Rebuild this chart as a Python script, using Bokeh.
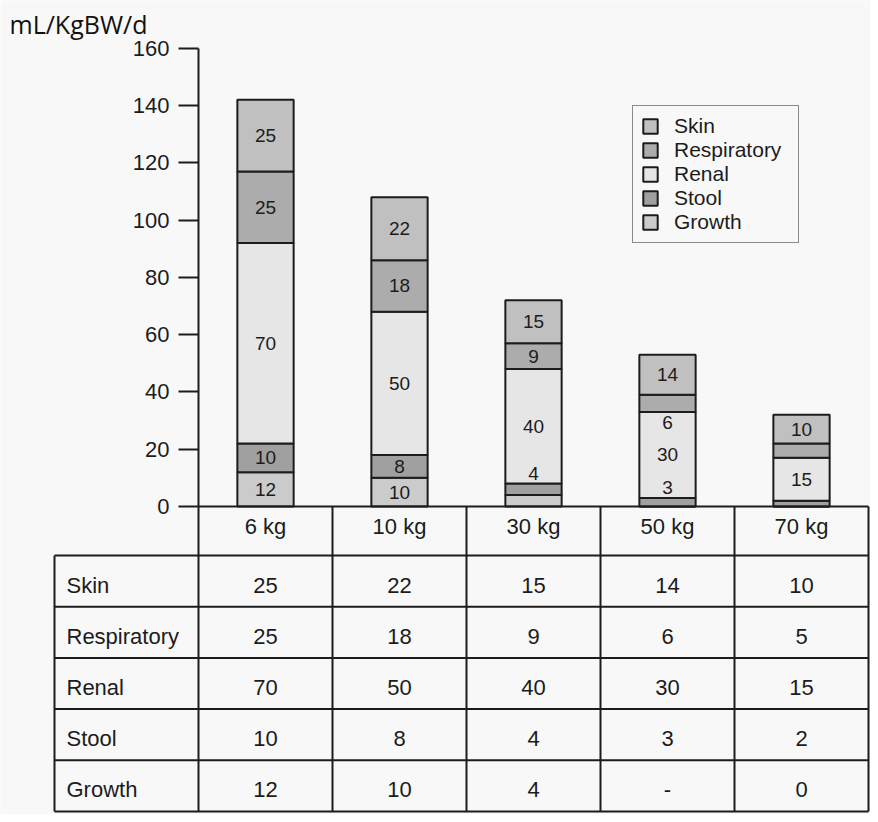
from bokeh.plotting import figure
from bokeh.models import (ColumnDataSource, LinearAxis, FixedTicker, Range1d,
                          Legend, LegendItem, Label)
from bokeh.core.properties import value
from bokeh.embed import file_html
from bokeh.resources import INLINE

# ---------------- data ----------------
CATEGORIES = ["6 kg", "10 kg", "30 kg", "50 kg", "70 kg"]
SKIN = [25, 22, 15, 14, 10]
RESPIRATORY = [25, 18, 9, 6, 5]
RENAL = [70, 50, 40, 30, 15]
STOOL = [10, 8, 4, 3, 2]
GROWTH = [12, 10, 4, None, 0]
STACK_ORDER = ["Growth", "Stool", "Renal", "Respiratory", "Skin"]   # bottom -> top
TABLE_ROWS = ["Skin", "Respiratory", "Renal", "Stool", "Growth"]
Y_TICKS = [0, 20, 40, 60, 80, 100, 120, 140, 160]
Y_UNIT = "mL/KgBW/d"
# small segments whose value is written inside the renal block instead
CALLOUTS = [("30 kg", "Stool", "bottom"), ("50 kg", "Stool", "bottom"),
            ("50 kg", "Respiratory", "top")]

SERIES = {"Skin": SKIN, "Respiratory": RESPIRATORY, "Renal": RENAL,
          "Stool": STOOL, "Growth": GROWTH}

# ---------------- style / layout ----------------
COLORS = {"Skin": "#c0c0c0", "Respiratory": "#acacac", "Renal": "#e6e6e6",
          "Stool": "#a0a0a0", "Growth": "#cbcbcb"}
BG = "#f8f8f8"
INK = "#1c1c1c"
FONT = "Liberation Sans"
W, H = 870, 814
PX_X = 134.0          # pixels per category
PX_Y = 2.864          # pixels per mL unit
X0 = 265              # frame px of first bar centre
Y0 = 506              # frame px (from top) of value 0
HEADER_H = 49
ROW_H = 51.2
LABEL_LEFT = 54       # frame px of table's left edge
BAR_W = 0.42

p = figure(width=W, height=H, output_backend="svg", toolbar_location=None,
           x_axis_type=None, y_axis_type=None, min_border=0,
           x_range=Range1d(-X0 / PX_X, (W - X0) / PX_X),
           y_range=Range1d(-(H - Y0) / PX_Y, Y0 / PX_Y))
p.title.visible = False
p.outline_line_color = None
p.background_fill_color = BG
p.border_fill_color = BG
p.xgrid.visible = False
p.ygrid.visible = False

# ---------------- y axis ----------------
yaxis = LinearAxis(ticker=FixedTicker(ticks=Y_TICKS), bounds=(0, 160))
yaxis.fixed_location = -0.5
yaxis.axis_line_width = 2
yaxis.axis_line_color = INK
yaxis.major_tick_line_width = 2
yaxis.major_tick_line_color = INK
yaxis.major_tick_out = 20
yaxis.major_tick_in = 0
yaxis.minor_tick_out = 0
yaxis.minor_tick_in = 0
yaxis.major_label_standoff = 9
yaxis.major_label_text_font = FONT
yaxis.major_label_text_font_size = "22px"
yaxis.major_label_text_color = INK
p.add_layout(yaxis, "left")

# ---------------- stacked bars ----------------
n = len(CATEGORIES)
data = {"x": list(range(n))}
for s in STACK_ORDER:
    data[s] = [v if v is not None else 0 for v in SERIES[s]]
src = ColumnDataSource(data)
renderers = p.vbar_stack(STACK_ORDER, x="x", width=BAR_W, source=src,
                         fill_color=[COLORS[s] for s in STACK_ORDER],
                         line_color=INK, line_width=2)
rmap = dict(zip(STACK_ORDER, renderers))

# segment bounds
bounds = {}
for i in range(n):
    acc = 0
    for s in STACK_ORDER:
        v = data[s][i]
        bounds[(i, s)] = (acc, acc + v)
        acc += v

lx, ly, lt = [], [], []
for i in range(n):
    for s in STACK_ORDER:
        v = SERIES[s][i]
        if v is not None and v >= 8:
            b0, b1 = bounds[(i, s)]
            lx.append(i); ly.append((b0 + b1) / 2); lt.append(str(v))
p.text(x=lx, y=ly, text=lt, text_align="center", text_baseline="middle",
       text_font=value(FONT), text_font_size="19px", text_color=INK)

for cat, s, anchor in CALLOUTS:
    i = CATEGORIES.index(cat)
    r0, r1 = bounds[(i, "Renal")]
    if anchor == "bottom":
        yy, off = r0, -10
    else:
        yy, off = r1, 11
    p.text(x=[i], y=[yy], text=[str(SERIES[s][i])], y_offset=off,
           text_align="center", text_baseline="middle",
           text_font=value(FONT), text_font_size="19px", text_color=INK)

# ---------------- table ----------------
xl, xr = -0.5, n - 0.5
xlab = (LABEL_LEFT - X0) / PX_X
y_head = -HEADER_H / PX_Y
y_bot = -(HEADER_H + len(TABLE_ROWS) * ROW_H) / PX_Y
x0s, y0s, x1s, y1s = [xl], [0], [xr], [0]
for k in range(len(TABLE_ROWS) + 1):
    yy = -(HEADER_H + k * ROW_H) / PX_Y
    x0s.append(xlab); y0s.append(yy); x1s.append(xr); y1s.append(yy)
for j in range(n + 1):
    xx = -0.5 + j
    x0s.append(xx); y0s.append(0); x1s.append(xx); y1s.append(y_bot)
x0s.append(xlab); y0s.append(y_head); x1s.append(xlab); y1s.append(y_bot)
p.segment(x0=x0s, y0=y0s, x1=x1s, y1=y1s, line_color=INK, line_width=2)

# header row
p.text(x=list(range(n)), y=[y_head / 2] * n, text=CATEGORIES, y_offset=-5,
       text_align="center", text_baseline="middle",
       text_font=value(FONT), text_font_size="22px", text_color=INK)

# body rows
for k, row in enumerate(TABLE_ROWS):
    yc = -(HEADER_H + (k + 0.5) * ROW_H) / PX_Y
    p.text(x=[xlab], y=[yc], text=[row], x_offset=12, y_offset=4,
           text_align="left", text_baseline="middle",
           text_font=value(FONT), text_font_size="22px", text_color=INK)
    vals = ["-" if v is None else str(v) for v in SERIES[row]]
    p.text(x=list(range(n)), y=[yc] * n, text=vals, y_offset=4,
           text_align="center", text_baseline="middle",
           text_font=value(FONT), text_font_size="22px", text_color=INK)

# ---------------- legend ----------------
legend = Legend(items=[LegendItem(label=s, renderers=[rmap[s]]) for s in TABLE_ROWS],
                location=(632, H - 243), margin=0, padding=8, spacing=0,
                glyph_width=18, glyph_height=18, label_standoff=15,
                label_width=116, label_height=20,
                label_text_font=FONT, label_text_font_size="21px",
                label_text_color=INK, border_line_color=INK,
                border_line_width=1.5, background_fill_color=BG,
                background_fill_alpha=1.0)
p.add_layout(legend)

# ---------------- unit label ----------------
p.add_layout(Label(x=9, y=H - 23, x_units="screen", y_units="screen",
                   text=Y_UNIT, text_font="Open Sans", text_font_size="25px",
                   text_color="#111111", text_baseline="alphabetic"))

open("out.html", "w").write(file_html(p, INLINE))
